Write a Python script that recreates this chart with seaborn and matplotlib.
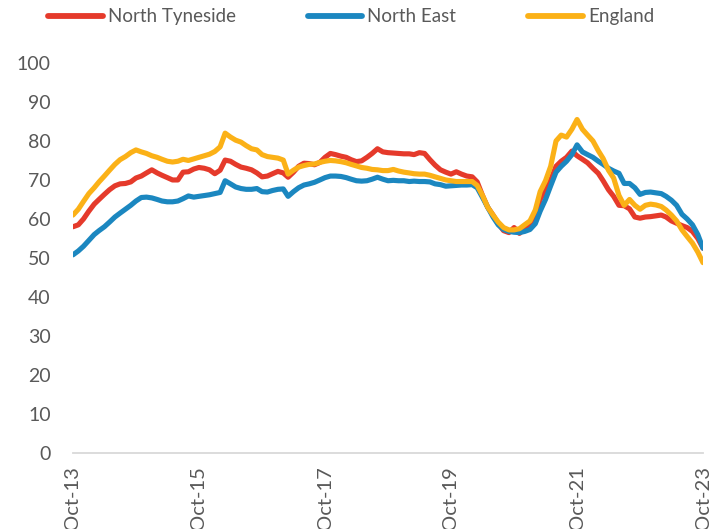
import pandas as pd
import seaborn as sns
import matplotlib.pyplot as plt
import matplotlib.dates as mdates

# Monthly values, Oct-13 to Oct-23
months = pd.date_range('2013-10-01', periods=121, freq='MS')

north_tyneside = [
    58.0, 58.5, 60.0, 62.0, 63.8, 65.0, 66.3, 67.5, 68.5, 69.0, 69.1, 69.5,
    70.5, 71.0, 71.8, 72.6, 71.8, 71.2, 70.6, 70.0, 70.0, 72.0, 72.1, 72.8,
    73.2, 73.0, 72.6, 71.6, 72.5, 75.1, 74.8, 74.0, 73.3, 73.0, 72.6, 71.8,
    70.8, 71.0, 71.6, 72.2, 71.8, 70.7, 72.0, 73.5, 74.3, 74.2, 73.9, 74.5,
    75.8, 76.8, 76.5, 76.1, 75.8, 75.2, 74.7, 74.9, 75.8, 76.8, 78.0, 77.2,
    77.0, 76.9, 76.8, 76.7, 76.7, 76.5, 77.0, 76.8, 75.2, 73.8, 72.6, 72.0,
    71.5, 72.1, 71.5, 71.0, 70.8, 69.5, 66.0, 63.0, 61.0, 58.8, 57.0, 56.5,
    57.8, 56.3, 57.5, 58.5, 60.5, 65.0, 67.5, 70.0, 73.5, 74.8, 75.8, 77.4,
    76.2, 75.3, 74.4, 73.0, 71.7, 69.8, 67.5, 65.8, 63.5, 63.4, 62.6, 60.5,
    60.2, 60.5, 60.6, 60.8, 61.0, 60.5, 59.5, 58.9, 58.3, 57.8, 56.8, 55.0,
    52.5,
]
north_east = [
    50.8, 51.8, 53.0, 54.5, 56.0, 57.0, 58.0, 59.2, 60.5, 61.5, 62.5, 63.5,
    64.6, 65.5, 65.6, 65.4, 65.0, 64.6, 64.4, 64.4, 64.6, 65.2, 65.9, 65.6,
    65.8, 66.0, 66.2, 66.5, 66.8, 69.8, 69.0, 68.2, 67.8, 67.6, 67.6, 67.8,
    67.0, 66.9, 67.3, 67.6, 67.7, 65.8, 67.0, 68.0, 68.7, 69.0, 69.4, 70.0,
    70.6, 71.0, 71.0, 70.9, 70.6, 70.2, 69.8, 69.7, 69.8, 70.2, 70.7, 70.2,
    69.8, 69.9, 69.8, 69.8, 69.6, 69.7, 69.6, 69.6, 69.5, 69.0, 68.8, 68.4,
    68.5, 68.6, 68.7, 68.7, 68.8, 68.0, 65.5, 63.0, 60.5, 58.5, 57.3, 56.8,
    56.6, 56.5, 56.8, 57.3, 58.8, 62.0, 65.0, 68.5, 72.0, 73.5, 74.8, 76.5,
    79.0, 77.2, 76.5, 75.8, 74.8, 74.0, 73.0, 72.3, 71.7, 69.1, 69.1, 68.0,
    66.3, 66.8, 66.9, 66.7, 66.5, 65.8, 64.8, 63.5, 61.2, 60.0, 58.5, 56.0,
    52.5,
]
england = [
    61.0, 62.5, 64.5, 66.5, 68.0, 69.5, 71.0, 72.5, 74.0, 75.2, 76.0, 77.0,
    77.7, 77.2, 76.8, 76.2, 75.8, 75.3, 74.8, 74.6, 74.8, 75.3, 75.0, 75.4,
    75.8, 76.2, 76.6, 77.3, 78.5, 82.0, 81.0, 80.2, 79.7, 78.8, 78.0, 77.7,
    76.5, 76.0, 75.8, 75.6, 75.1, 71.5, 72.5, 73.3, 73.7, 74.0, 74.1, 74.5,
    74.8, 75.0, 74.9, 74.7, 74.4, 74.0, 73.6, 73.2, 73.0, 72.7, 72.6, 72.4,
    72.4, 72.7, 72.3, 72.0, 71.8, 71.6, 71.5, 71.5, 71.2, 70.8, 70.4, 70.0,
    69.8, 69.6, 69.6, 69.6, 69.6, 68.6, 66.0, 63.0, 61.0, 59.2, 57.8, 57.2,
    57.2, 57.5, 58.5, 59.5, 62.3, 67.0, 69.8, 73.5, 80.0, 81.5, 81.0, 83.0,
    85.5, 83.0, 81.5, 80.0, 77.5, 75.5, 72.5, 70.5, 66.0, 63.5, 65.0, 63.5,
    62.5, 63.5, 63.8, 63.6, 63.2, 62.3, 61.0, 59.5, 57.2, 55.5, 53.8, 51.5,
    48.8,
]

series = ['North Tyneside', 'North East', 'England']
colors = ['#E53A2B', '#1B87C0', '#FBB117']

df = pd.DataFrame({'date': months,
                   'North Tyneside': north_tyneside,
                   'North East': north_east,
                   'England': england})
df_long = df.melt(id_vars='date', var_name='area', value_name='value')

sns.set_style('white')
plt.rcParams['font.family'] = ['Lato', 'DejaVu Sans']

fig = plt.figure(figsize=(7.24, 5.29), dpi=100)
ax = fig.add_axes([0.1008, 0.1437, 0.8702, 0.7373])

sns.lineplot(data=df_long, x='date', y='value', hue='area', hue_order=series,
             palette=colors, linewidth=3.7, ax=ax, legend=False)

ax.set_xlim(months[0], months[-1])
ax.set_ylim(0, 100)
ax.set_yticks(range(0, 101, 10))
ax.set_xticks(months[::24])
ax.xaxis.set_major_formatter(mdates.DateFormatter('%b-%y'))
ax.set_xlabel('')
ax.set_ylabel('')

for side in ['top', 'right', 'left']:
    ax.spines[side].set_visible(False)
ax.spines['bottom'].set_color('#d9d9d9')
ax.spines['bottom'].set_linewidth(1.3)

ax.tick_params(axis='y', length=0, labelsize=14, labelcolor='#595959', pad=16)
ax.tick_params(axis='x', length=4.5, width=1.3, color='#d9d9d9', labelsize=14.5,
               labelcolor='#595959', pad=5)
for lab in ax.get_xticklabels():
    lab.set_rotation(90)
    lab.set_va('top')
    lab.set_ha('center')

handles = [plt.Line2D([], [], color=c, linewidth=4.2, solid_capstyle='round')
           for c in colors]
fig.legend(handles, series, loc='center', bbox_to_anchor=(0.485, 0.968), ncol=3,
           frameon=False, fontsize=13.5, handlelength=2.9, handletextpad=0.27,
           columnspacing=3.85, labelcolor='#595959')

fig.savefig('out.png', dpi=100)
